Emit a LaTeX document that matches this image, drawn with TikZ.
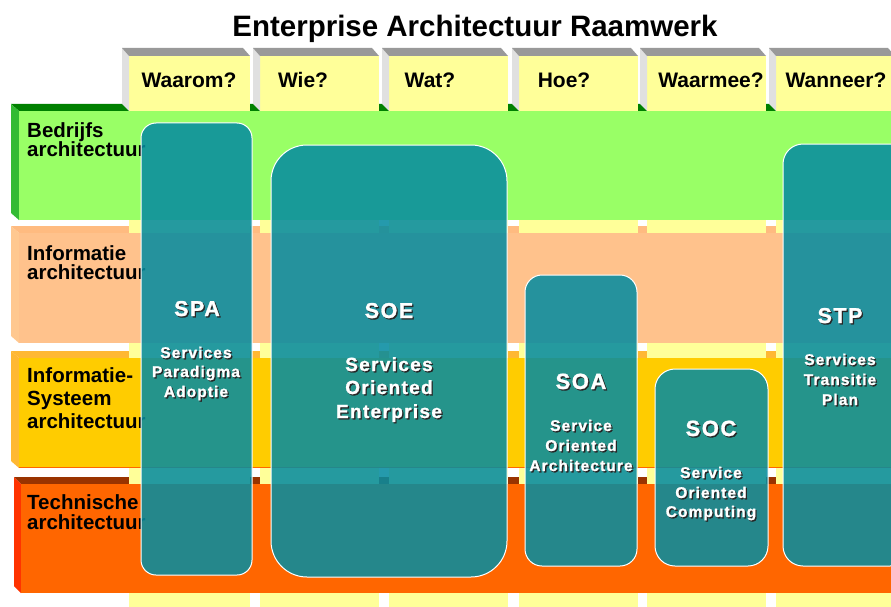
\documentclass[tikz,border=0pt]{standalone}
\usepackage{fontspec}
\setmainfont{Liberation Sans}
\definecolor{rAf}{HTML}{99FF66}
\definecolor{rAs}{HTML}{33BB33}
\definecolor{rAt}{HTML}{008000}
\definecolor{rBf}{HTML}{FFC28C}
\definecolor{rBs}{HTML}{FFC890}
\definecolor{rBt}{HTML}{FFBB80}
\definecolor{rCf}{HTML}{FFCC00}
\definecolor{rCs}{HTML}{FFB833}
\definecolor{rCt}{HTML}{FFB833}
\definecolor{rDf}{HTML}{FF6600}
\definecolor{rDs}{HTML}{FF3300}
\definecolor{rDt}{HTML}{993300}
\definecolor{colf}{HTML}{FFFF99}
\definecolor{cols}{HTML}{E0E0E0}
\definecolor{colt}{HTML}{999999}
\definecolor{tealbox}{RGB}{5,140,160}
\newcommand\bsize[1]{\fontsize{#1}{#1}\selectfont\bfseries}
\tikzset{
  tealshape/.style={fill=tealbox, fill opacity=0.87, draw=white, line width=1pt},
  hdr/.style={anchor=base, inner sep=0pt, font=\bsize{21}},
  rowlbl/.style={anchor=base west, inner sep=0pt, font=\bsize{20.5}},
  wtxt/.style={anchor=base, inner sep=0pt, text=white},
  stxt/.style={anchor=base, inner sep=0pt, text=black!85, xshift=1.3pt, yshift=-1.3pt},
}
% #1 name, #2 x, #3 baseline y, #4 size, #5 text
\newcommand\shtext[5]{%
  \node[stxt, font=\bsize{#4}\addfontfeature{LetterSpace=7,FakeBold=1.3}] (#1s) at (#2,#3) {#5};
  \node[wtxt, font=\bsize{#4}\addfontfeature{LetterSpace=7,FakeBold=1.3}] (#1) at (#2,#3) {#5};}
\begin{document}
\begin{tikzpicture}[x=1pt,y=-1pt]
\useasboundingbox (0,0) rectangle (891,607);
\clip (0,0) rectangle (891,607);
\fill[white] (0,0) rectangle (891,607);
% title
\node[anchor=base, inner sep=0pt, font=\bsize{29.5}] (title) at (475,37) {Enterprise Architectuur Raamwerk};
% row top faces (behind columns)
\fill[rAt] (11,104) -- (900,104) -- (900,111) -- (19,111) -- cycle;
\fill[rBt] (11,226) -- (900,226) -- (900,233) -- (19,233) -- cycle;
\fill[rCt] (11,351) -- (900,351) -- (900,358) -- (19,358) -- cycle;
\fill[rDt] (14,477) -- (900,477) -- (900,484) -- (21,484) -- cycle;
% columns
\foreach \xa/\xb in {129/250, 260/379, 389/508, 519/638, 647/766, 776/895}{
  \fill[colf] (\xa,56) rectangle (\xb,607);
  \fill[cols] (\xa-7,48) -- (\xa,56) -- (\xa,111) -- (\xa-7,104) -- cycle;
  \fill[colt] (\xa-7,48) -- (\xb-7,48) -- (\xb,56) -- (\xa,56) -- cycle;
}
\node[hdr] (h1) at (189,88) {Waarom?};
\node[hdr] (h2) at (303,88) {Wie?};
\node[hdr] (h3) at (430,88) {Wat?};
\node[hdr] (h4) at (564,88) {Hoe?};
\node[hdr] (h5) at (711,88) {Waarmee?};
\node[hdr] (h6) at (836,88) {Wanneer?};
% row fronts and sides
\fill[rAs] (11,104) -- (19,111) -- (19,220) -- (11,213) -- cycle;
\fill[rAf] (19,111) rectangle (900,220);
\fill[rBs] (11,226) -- (19,233) -- (19,343) -- (11,336) -- cycle;
\fill[rBf] (19,233) rectangle (900,343);
\fill[rCs] (11,351) -- (19,358) -- (19,468) -- (11,461) -- cycle;
\fill[rCf] (19,358) rectangle (900,468);
\draw[rDf, line width=0.8pt] (19,467.6) -- (900,467.6);
\fill[rDs] (14,477) -- (21,484) -- (21,593) -- (14,586) -- cycle;
\fill[rDf] (21,484) rectangle (900,593);
% row labels
\node[rowlbl] (l1a) at (27,137.5) {Bedrijfs};
\node[rowlbl] (l1b) at (27,156.5) {architectuur};
\node[rowlbl] (l2a) at (27,260) {Informatie};
\node[rowlbl] (l2b) at (27,279) {architectuur};
\node[rowlbl] (l3a) at (27,382) {Informatie-};
\node[rowlbl] (l3b) at (27,405) {Systeem};
\node[rowlbl] (l3c) at (27,428) {architectuur};
\node[rowlbl] (l4a) at (27,509) {Technische};
\node[rowlbl] (l4b) at (27,529) {architectuur};
% teal boxes
\draw[tealshape, rounded corners=15pt] (141,123) rectangle (252,575);
\draw[tealshape, rounded corners=36pt] (271,145) rectangle (507,577);
\draw[tealshape, rounded corners=17pt] (525,275) rectangle (637,566);
\draw[tealshape, rounded corners=20pt] (655,369) rectangle (768,566);
\draw[tealshape, rounded corners=20pt] (783,144) rectangle (910,566);
% box texts
\shtext{spa}{197}{316}{21.5}{SPA}
\shtext{spa1}{196}{358}{15.5}{Services}
\shtext{spa2}{196}{377}{15.5}{Paradigma}
\shtext{spa3}{196}{397}{15.5}{Adoptie}
\shtext{soe}{389}{318}{21.5}{SOE}
\shtext{soe1}{389}{371}{19}{Services}
\shtext{soe2}{389}{394}{19}{Oriented}
\shtext{soe3}{389}{418}{19}{Enterprise}
\shtext{soa}{581}{389}{22}{SOA}
\shtext{soa1}{581}{431}{15.5}{Service}
\shtext{soa2}{581}{451}{15.5}{Oriented}
\shtext{soa3}{581}{471}{15.5}{Architecture}
\shtext{soc}{711}{436}{22}{SOC}
\shtext{soc1}{711}{478}{15.5}{Service}
\shtext{soc2}{711}{498}{15.5}{Oriented}
\shtext{soc3}{711}{517}{15.5}{Computing}
\shtext{stp}{840}{323}{21.5}{STP}
\shtext{stp1}{840}{365}{15.5}{Services}
\shtext{stp2}{840}{385}{15.5}{Transitie}
\shtext{stp3}{840}{405}{15.5}{Plan}
\end{tikzpicture}
\end{document}
